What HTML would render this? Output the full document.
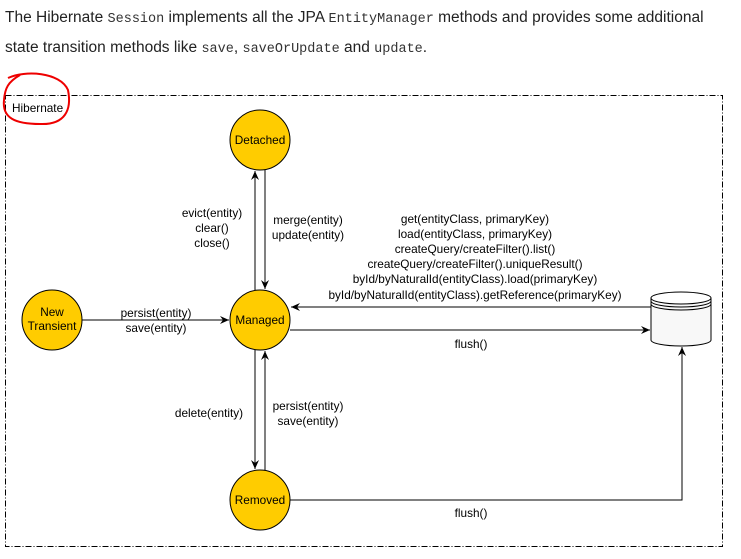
<!DOCTYPE html>
<html><head><style>
body{margin:0;width:741px;height:559px;background:#fff;overflow:hidden;font-family:"Liberation Sans",sans-serif}
p{position:absolute;left:5px;top:4px;margin:0;font-size:15.5px;line-height:28px;color:#222;width:735px}
code{font-family:"Liberation Mono",monospace;font-size:13.5px;color:#333}
</style></head><body>
<p>The Hibernate <code>Session</code> implements all the JPA <code>EntityManager</code> methods and provides some additional state transition methods like <code>save</code>, <code>saveOrUpdate</code> and <code>update</code>.</p>
<svg width="741" height="559" style="position:absolute;left:0;top:0" font-family="Liberation Sans, sans-serif" font-size="11.8">
<defs><marker id="a" markerWidth="10" markerHeight="10" refX="9" refY="5" orient="auto" markerUnits="userSpaceOnUse"><path d="M0,1 L9,5 L0,9 L3,5z" fill="#000"/></marker></defs>
<rect x="5.5" y="95.5" width="717" height="451" fill="none" stroke="#000" stroke-dasharray="6,2,1,2"/>
<text x="12" y="112">Hibernate</text>
<path d="M8,78 C25,70 60,72 68,90 C72,110 65,125 40,124 C15,124 2,118 4,100 C5,88 8,82 20,75" fill="none" stroke="#e00" stroke-width="2"/>
<g stroke="#000" fill="#ffcc00">
<circle cx="260" cy="140" r="30"/><circle cx="260" cy="320" r="30"/><circle cx="260" cy="500" r="30"/><circle cx="52" cy="320" r="30"/>
</g>
<g text-anchor="middle">
<text x="260" y="144">Detached</text><text x="260" y="324">Managed</text><text x="260" y="504">Removed</text>
<text x="52" y="316">New</text><text x="52" y="330">Transient</text>
</g>
<g stroke="#000" fill="none" marker-end="url(#a)">
<line x1="255" y1="290" x2="255" y2="171"/>
<line x1="265" y1="170" x2="265" y2="289"/>
<line x1="255" y1="350" x2="255" y2="469"/>
<line x1="265" y1="470" x2="265" y2="351"/>
<line x1="82" y1="320" x2="229" y2="320"/>
<line x1="651" y1="307" x2="291" y2="307"/>
<line x1="290" y1="330" x2="650" y2="330"/>
<path d="M290,500 H682 V347"/>
</g>
<g fill="#fff" stroke="#000">
<path d="M651,298 V340 A30,6 0 0 0 711,340 V298" fill="#f8f8f8"/>
<ellipse cx="681" cy="298" rx="30" ry="6"/>
<path d="M651,301 A30,6 0 0 0 711,301 M651,304 A30,6 0 0 0 711,304" fill="none"/>
</g>
<g text-anchor="middle">
<text x="212" y="217">evict(entity)</text><text x="212" y="232">clear()</text><text x="212" y="247">close()</text>
<text x="308" y="224">merge(entity)</text><text x="308" y="239">update(entity)</text>
<text x="156" y="317">persist(entity)</text><text x="156" y="332">save(entity)</text>
<text x="209" y="417">delete(entity)</text>
<text x="308" y="410">persist(entity)</text><text x="308" y="425">save(entity)</text>
<text x="475" y="223">get(entityClass, primaryKey)</text>
<text x="475" y="238">load(entityClass, primaryKey)</text>
<text x="475" y="253">createQuery/createFilter().list()</text>
<text x="475" y="268">createQuery/createFilter().uniqueResult()</text>
<text x="475" y="283">byId/byNaturalId(entityClass).load(primaryKey)</text>
<text x="475" y="299">byId/byNaturalId(entityClass).getReference(primaryKey)</text>
<text x="471" y="348">flush()</text>
<text x="471" y="517">flush()</text>
</g>
</svg>
</body></html>
